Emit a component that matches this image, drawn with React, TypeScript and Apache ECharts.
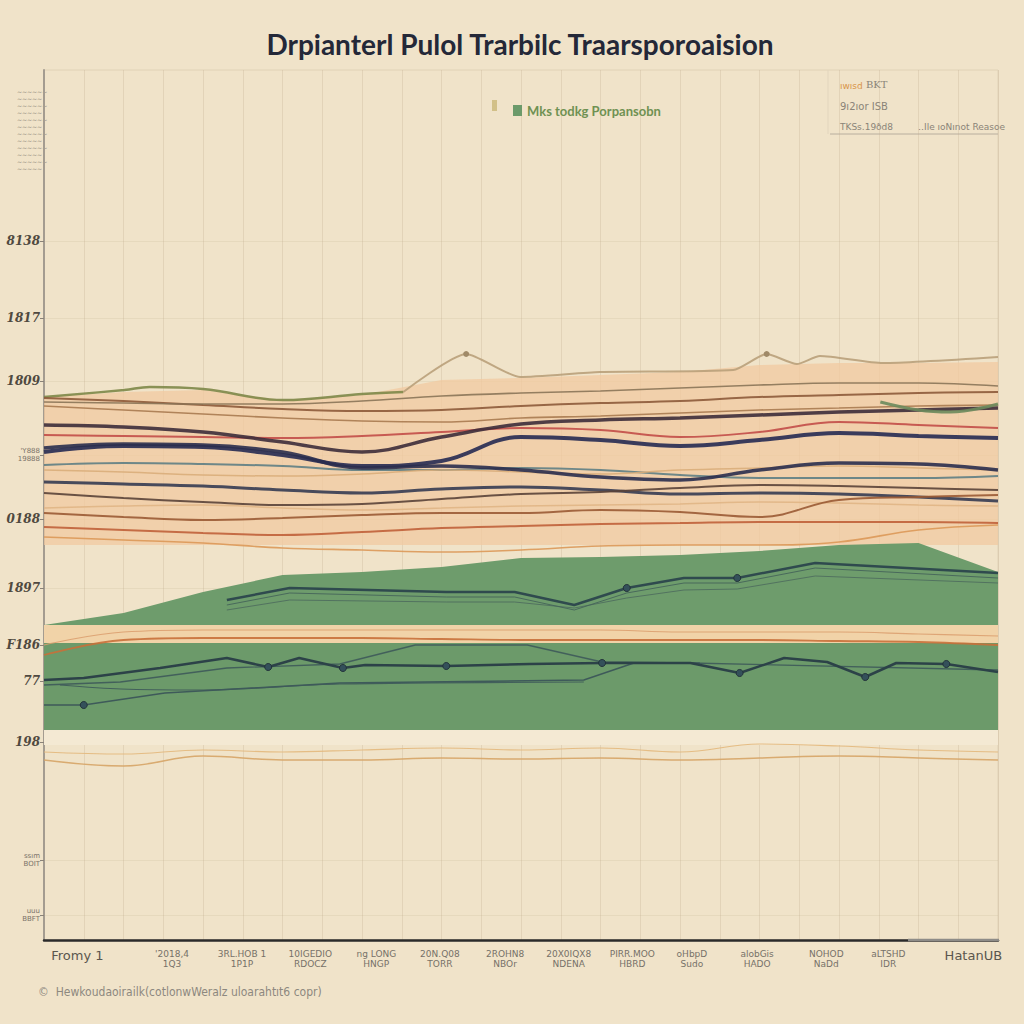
import React, { useEffect, useRef } from "react";
import * as echarts from "echarts";

// ---- Data ----
const titleText = "Drpianterl Pulol Trarbilc Traarsporoaision";
const legendName = "Mks todkg Porpansobn";
const footerText = "\u00A9  Hewkoudaoirailk(cotlonwWeralz uloarahtıt6 copr)";

const xs = [0, 1, 2, 3, 4, 5, 6, 7, 8, 9, 10, 11, 12];

const xTickValues = [0.42, 1.61, 2.49, 3.35, 4.18, 4.98, 5.8, 6.6, 7.4, 8.15, 8.97, 9.84, 10.62, 11.69];
const xTickLabels = [
  "Fromy 1",
  "'2018,4\n1Q3",
  "3RL.HOB 1\n1P1P",
  "10IGEDIO\nRDOCZ",
  "ng LONG\nHNGP",
  "20N.Q08\nTORR",
  "2ROHN8\nNBOr",
  "20X0IQX8\nNDENA",
  "PIRR.MOO\nHBRD",
  "oHbpD\nSudo",
  "alobGis\nHADO",
  "NOHOD\nNaDd",
  "aLTSHD\nIDR",
  "HatanUB",
];

const yTickValues = [69.9, 62.2, 55.9, 48.5, 42.1, 35.2, 29.5, 25.9, 19.8, 8.0, 2.5];
const yTickLabels = ["8138", "1817", "1809", "'Y888\n19888", "0188", "1897", "F186", "77", "198", "ssım\nBOIT", "uuu\nBBFT"];

// upper band lines (shared x)
const sBrown = [54.2, 53.9, 53.5, 53.1, 52.9, 53.0, 53.4, 53.7, 53.9, 54.3, 54.5, 54.7, 54.8];
const sTanBrown = [53.4, 53.0, 52.6, 52.2, 51.9, 51.8, 52.2, 52.4, 52.7, 53.0, 53.2, 53.4, 53.5];
const sGrayBrown = [53.8, 53.7, 53.6, 53.6, 53.9, 54.4, 54.7, 54.9, 55.2, 55.5, 55.7, 55.7, 55.4];
const sMaroon = [51.5, 51.3, 50.8, 49.8, 48.8, 50.3, 51.6, 52.0, 52.2, 52.5, 52.8, 53.0, 53.2];
const sRed = [50.5, 50.4, 50.3, 50.2, 50.4, 50.8, 51.2, 51.0, 50.3, 50.8, 51.8, 51.5, 51.2];
const sNavyA = [48.8, 49.4, 49.3, 48.5, 47.4, 47.9, 50.3, 50.0, 49.4, 50.0, 50.7, 50.4, 50.2];
const sNavyB = [49.2, 49.6, 49.5, 48.8, 47.2, 47.4, 47.0, 46.3, 46.0, 47.0, 47.7, 47.6, 47.0];
const sTeal = [47.5, 47.7, 47.6, 47.4, 47.0, 47.0, 47.2, 47.0, 46.5, 46.2, 46.2, 46.2, 46.4];
const sLightTanA = [47.0, 46.8, 46.5, 46.4, 46.6, 47.0, 46.8, 46.6, 47.0, 47.2, 47.4, 47.2, 47.0];
const sSlate = [45.8, 45.6, 45.4, 45.0, 44.7, 45.1, 45.3, 45.0, 44.6, 44.7, 44.6, 44.3, 43.9];
const sDarkBrown = [44.7, 44.2, 43.8, 43.5, 43.6, 44.1, 44.6, 44.8, 45.2, 45.5, 45.4, 45.2, 45.0];
const sLightTanB = [43.2, 43.4, 43.5, 43.2, 43.0, 43.2, 43.4, 43.5, 43.6, 43.8, 43.7, 43.5, 43.4];
const sBrownOrange = [42.7, 42.3, 42.0, 42.2, 42.5, 42.7, 42.7, 43.0, 42.8, 42.3, 44.0, 44.3, 44.5];
const sRust = [41.3, 41.0, 40.7, 40.5, 40.8, 41.2, 41.4, 41.6, 41.7, 41.8, 41.8, 41.8, 41.7];
const sOrange = [40.3, 40.0, 39.7, 39.2, 39.0, 38.8, 39.0, 39.4, 39.5, 39.5, 39.8, 41.0, 41.5];

// own-x lines
const oliveX = [0, 1.01, 1.33, 2, 3.01, 4, 4.52];
const oliveY = [54.3, 55.0, 55.3, 55.1, 54.0, 54.6, 54.8];
const peakX = [4.52, 5.31, 5.99, 6.99, 8.67, 9.09, 9.47, 9.76, 10.55, 12];
const peakY = [54.8, 58.6, 56.3, 56.8, 57.0, 58.6, 57.6, 58.4, 57.7, 58.3];
const sageX = [10.52, 11.0, 11.4, 12];
const sageY = [53.8, 53.0, 52.8, 53.6];

// bands / areas
const peachTop = [54.3, 54.8, 55.0, 54.0, 54.5, 56.0, 56.2, 56.5, 56.8, 57.5, 57.7, 57.7, 57.8];
const peachBase = 39.5;
const greenTop = [31.5, 32.7, 34.8, 36.5, 36.8, 37.3, 38.2, 38.3, 38.5, 38.9, 39.5, 39.7, 36.8];
const greenBase = 31.5;
const midBandTop = 31.5;
const lowerGreenTop = 29.7;
const lowerGreenBase = 21.0;
const stripBase = 19.5;

// lines in the green areas
const ug1X = [2.3, 3.09, 5.06, 5.92, 6.67, 7.33, 8.05, 8.72, 9.7, 12];
const ug1Y = [34.0, 35.2, 34.8, 34.8, 33.5, 35.2, 36.2, 36.2, 37.7, 36.7];
const ug2Y = [33.5, 34.7, 34.3, 34.3, 33.0, 34.7, 35.7, 35.7, 37.2, 36.2];
const ug3Y = [33.0, 34.0, 33.8, 33.8, 33.2, 34.2, 35.0, 35.1, 36.4, 35.7];

const g1X = [0, 0.5, 1.46, 2.3, 2.82, 3.21, 3.76, 4.04, 5.06, 6.11, 7.02, 8.13, 8.75, 9.31, 9.85, 10.33, 10.72, 11.35, 12];
const g1Y = [26.0, 26.2, 27.2, 28.2, 27.3, 28.2, 27.2, 27.5, 27.4, 27.6, 27.7, 27.7, 26.7, 28.2, 27.8, 26.3, 27.7, 27.6, 26.8];
const g1Marks = [4, 6, 8, 10, 12, 15, 17];
const g2X = [0, 0.96, 2.3, 3.72, 4.67, 6.08, 7.02, 8.13, 12];
const g2Y = [25.5, 25.8, 27.2, 27.6, 29.5, 29.5, 27.8, 27.7, 27.0];
const g3X = [0, 0.5, 1.52, 3.72, 6.79, 7.42, 8.25];
const g3Y = [23.5, 23.5, 24.7, 25.7, 26.0, 27.7, 27.7];
const g4X = [0.2, 0.97, 1.96, 3.72, 6.79];
const g4Y = [25.5, 25.1, 25.0, 25.6, 25.8];

const orangeA = [28.5, 30.0, 30.2, 30.2, 30.2, 30.1, 30.0, 30.0, 30.0, 30.0, 29.9, 29.8, 29.5];
const orangeB = [29.5, 30.8, 31.0, 31.0, 31.0, 31.0, 31.0, 31.0, 30.8, 30.8, 30.8, 30.6, 30.4];
const tanLowA = [18.0, 17.4, 18.4, 18.0, 18.0, 18.2, 18.1, 18.2, 18.0, 18.2, 18.4, 18.2, 18.0];
const tanLowB = [18.8, 18.6, 19.0, 18.8, 19.0, 19.2, 19.0, 19.2, 18.8, 19.6, 19.4, 19.0, 18.8];

const zipShared = (ys: number[]) => xs.map((x, i) => [x, ys[i]]);
const zipOwn = (x: number[], y: number[]) => x.map((v, i) => [v, y[i]]);
const flat = (v: number) => xs.map((x) => [x, v]);

function lineSeries(name: string, data: any[], color: string, width: number, extra: any = {}) {
  return {
    name,
    type: "line",
    data,
    smooth: 0.4,
    showSymbol: false,
    symbol: "none",
    lineStyle: { color, width, opacity: 0.9 },
    itemStyle: { color },
    silent: true,
    ...extra,
  };
}

function areaSeries(name: string, data: any[], color: string, origin: number, extra: any = {}) {
  return {
    name,
    type: "line",
    data,
    smooth: false,
    symbol: "none",
    showSymbol: false,
    lineStyle: { width: 0, color },
    itemStyle: { color },
    areaStyle: { color, opacity: 1, origin },
    silent: true,
    ...extra,
  };
}

function markedSeries(name: string, data: any[], color: string, width: number, marks: number[]) {
  return {
    name,
    type: "line",
    data,
    smooth: false,
    symbol: "circle",
    showSymbol: true,
    symbolSize: (_v: any, p: any) => (marks.indexOf(p.dataIndex) >= 0 ? 7 : 0),
    lineStyle: { color, width },
    itemStyle: { color: "#34505a", borderColor: "#22323a", borderWidth: 1 },
    silent: true,
  };
}

export default function App() {
  const ref = useRef<HTMLDivElement>(null);

  useEffect(() => {
    if (!ref.current) return;
    const chart = echarts.init(ref.current, undefined, { renderer: "svg" });

    const option: any = {
      animation: false,
      backgroundColor: "#f0e3c9",
      grid: {
        left: 44,
        right: 26,
        top: 70,
        bottom: 84,
        show: true,
        borderColor: "#e0d2b6",
        borderWidth: 1,
        backgroundColor: "transparent",
      },
      legend: {
        data: [{ name: legendName, icon: "rect" }],
        left: 508,
        top: 99,
        itemWidth: 9,
        itemHeight: 11,
        itemGap: 6,
        selectedMode: false,
        textStyle: { color: "#6f9152", fontSize: 13, fontFamily: "Lato", fontWeight: "bold" },
      },
      xAxis: {
        type: "value",
        min: 0,
        max: 12,
        interval: 0.5,
        axisLine: { show: true, lineStyle: { color: "#2a2a2a", width: 2.5 } },
        axisTick: { show: false },
        splitLine: { show: true, lineStyle: { color: "rgba(190,170,140,0.28)", width: 1 } },
        axisLabel: {
          customValues: xTickValues,
          margin: 9,
          formatter: (v: number) => {
            const i = xTickValues.findIndex((t) => Math.abs(t - v) < 0.001);
            if (i < 0) return "";
            const s = xTickLabels[i];
            if (i === 0 || i === xTickLabels.length - 1) return "{e|" + s + "}";
            const [a, b] = s.split("\n");
            return "{t|" + a + "}\n{t|" + b + "}";
          },
          rich: {
            t: { fontSize: 9, color: "#767168", lineHeight: 10, fontFamily: "DejaVu Sans" },
            e: { fontSize: 13, color: "#5a564e", fontFamily: "DejaVu Sans" },
          },
        },
      },
      yAxis: {
        type: "value",
        min: 0,
        max: 87,
        interval: 3,
        axisLine: { show: true, lineStyle: { color: "#a49c90", width: 2 } },
        axisTick: { show: true, customValues: yTickValues, length: 4, lineStyle: { color: "#8a8278" } },
        splitLine: { show: true, lineStyle: { color: "rgba(190,170,140,0.18)", width: 1 } },
        axisLabel: {
          customValues: yTickValues,
          margin: 4,
          formatter: (v: number) => {
            const i = yTickValues.findIndex((t) => Math.abs(t - v) < 0.001);
            if (i < 0) return "";
            const s = yTickLabels[i];
            if (s.indexOf("\n") >= 0) {
              const [a, b] = s.split("\n");
              return "{s|" + a + "}\n{s|" + b + "}";
            }
            return "{m|" + s + "}";
          },
          rich: {
            m: { fontSize: 12, color: "#4f4940", fontFamily: "DejaVu Serif", fontStyle: "italic", fontWeight: "bold" },
            s: { fontSize: 7, color: "#7a7268", lineHeight: 8, fontFamily: "DejaVu Sans" },
          },
        },
      },
      series: [
        areaSeries("peachBand", zipShared(peachTop), "#f1cba2", peachBase, { areaStyle: { color: "#f1c9a0", opacity: 0.75, origin: peachBase } }),
        lineSeries("olive", zipOwn(oliveX, oliveY), "#7d8748", 2.5),
        lineSeries("peak", zipOwn(peakX, peakY), "#b9a07a", 2, {
          smooth: 0.2,
          symbol: "circle",
          showSymbol: true,
          symbolSize: (_v: any, p: any) => (p.dataIndex === 1 || p.dataIndex === 5 ? 6 : 0),
          itemStyle: { color: "#a08a68" },
        }),
        lineSeries("brown", zipShared(sBrown), "#8d5a3a", 2),
        lineSeries("tanBrown", zipShared(sTanBrown), "#a97a50", 1.6),
        lineSeries("grayBrown", zipShared(sGrayBrown), "#8a7458", 1.6),
        lineSeries("red", zipShared(sRed), "#c24d48", 2),
        lineSeries("maroon", zipShared(sMaroon), "#3d2c3a", 3.5),
        lineSeries("teal", zipShared(sTeal), "#5e7e84", 2),
        lineSeries("lightTanA", zipShared(sLightTanA), "#d9ad7a", 1.5),
        lineSeries("navyA", zipShared(sNavyA), "#262a52", 4),
        lineSeries("navyB", zipShared(sNavyB), "#2a2e4e", 3.5),
        lineSeries("slate", zipShared(sSlate), "#353b52", 3),
        lineSeries("darkBrown", zipShared(sDarkBrown), "#5a4238", 2),
        lineSeries("lightTanB", zipShared(sLightTanB), "#e0b585", 1.5),
        lineSeries("brownOrange", zipShared(sBrownOrange), "#9a5a34", 2),
        lineSeries("rust", zipShared(sRust), "#c0603a", 2),
        lineSeries("orange", zipShared(sOrange), "#dc9858", 1.6),
        lineSeries("sage", zipOwn(sageX, sageY), "#6c8a5c", 3),
        areaSeries("midBand", flat(midBandTop), "#f1d3a8", lowerGreenTop),
        areaSeries("upperGreen", zipShared(greenTop), "#6e9c6c", greenBase),
        areaSeries(legendName, flat(lowerGreenTop), "#6c9a6a", lowerGreenBase),
        areaSeries("strip", flat(lowerGreenBase), "#f4e9d3", stripBase),
        lineSeries("orangeA", zipShared(orangeA), "#c8703a", 1.8),
        lineSeries("orangeB", zipShared(orangeB), "#dba070", 1.2),
        lineSeries("ug3", zipOwn(ug1X, ug3Y), "#4f6e5e", 1, { smooth: false }),
        lineSeries("ug2", zipOwn(ug1X, ug2Y), "#45645a", 1, { smooth: false }),
        markedSeries("ug1", zipOwn(ug1X, ug1Y), "#2f4a4e", 2.5, [5, 7]),
        lineSeries("g4", zipOwn(g4X, g4Y), "#3e5a5a", 1.2, { smooth: 0.3 }),
        markedSeries("g3", zipOwn(g3X, g3Y), "#3e5a5a", 1.5, [1]),
        lineSeries("g2", zipOwn(g2X, g2Y), "#3e5a5a", 1.3, { smooth: false }),
        markedSeries("g1", zipOwn(g1X, g1Y), "#2c4248", 2.5, g1Marks),
        lineSeries("tanLowB", zipShared(tanLowB), "#e3b87c", 1.2),
        lineSeries("tanLowA", zipShared(tanLowA), "#d6a466", 1.5),
      ],
      graphic: [
        {
          type: "text",
          x: 520,
          y: 44,
          style: {
            text: titleText,
            fontSize: 28,
            fontWeight: "bold",
            fontFamily: "Lato",
            fill: "#242838",
            align: "center",
            verticalAlign: "middle",
          },
        },
        { type: "rect", shape: { x: 492, y: 100, width: 5, height: 11 }, style: { fill: "#d2c088" } },
        // lighter tail of the bottom axis line
        { type: "line", z: 10, shape: { x1: 908, y1: 940, x2: 999, y2: 940 }, style: { stroke: "#8e8c88", lineWidth: 2.5 } },
        // top-right notes box
        { type: "line", shape: { x1: 828, y1: 70, x2: 828, y2: 134 }, style: { stroke: "#e2d5bd", lineWidth: 1 } },
        { type: "line", shape: { x1: 830, y1: 134, x2: 998, y2: 134 }, style: { stroke: "#b8ae9e", lineWidth: 1 } },
        { type: "text", x: 840, y: 86, style: { text: "ıwısd", fontSize: 9, fill: "#d9954a", fontFamily: "DejaVu Sans", verticalAlign: "middle" } },
        { type: "text", x: 866, y: 84, style: { text: "BKT", fontSize: 10, fill: "#8a8478", fontFamily: "DejaVu Serif", verticalAlign: "middle" } },
        { type: "text", x: 840, y: 106, style: { text: "9ı2ıor ISB", fontSize: 10, fill: "#8a8478", fontFamily: "DejaVu Sans", verticalAlign: "middle" } },
        { type: "text", x: 840, y: 127, style: { text: "TKSs.19ðd8", fontSize: 9, fill: "#8a8478", fontFamily: "DejaVu Sans", verticalAlign: "middle" } },
        { type: "text", x: 918, y: 127, style: { text: "‥Ile ıoNınot Reasoe", fontSize: 9, fill: "#8a8478", fontFamily: "DejaVu Sans", verticalAlign: "middle" } },
        // top-left tiny notes
        {
          type: "text",
          x: 17,
          y: 88,
          style: {
            text: "~~~~~~\n~~~~~\n~~~~~~\n~~~~~\n~~~~~~\n~~~~~\n~~~~~~\n~~~~~\n~~~~~~\n~~~~~\n~~~~~~\n~~~~~",
            fontSize: 6,
            lineHeight: 7,
            fill: "#8f877a",
            fontFamily: "DejaVu Sans",
          },
        },
        {
          type: "text",
          x: 38,
          y: 992,
          style: { text: footerText, fontSize: 12, fill: "#8d887f", fontFamily: "DejaVu Sans Condensed", verticalAlign: "middle" },
        },
      ],
    };

    chart.setOption(option);
    return () => chart.dispose();
  }, []);

  return (
    <div
      ref={ref}
      style={{ position: "fixed", left: 0, top: 0, width: 1024, height: 1024, background: "#f0e3c9" }}
    />
  );
}
